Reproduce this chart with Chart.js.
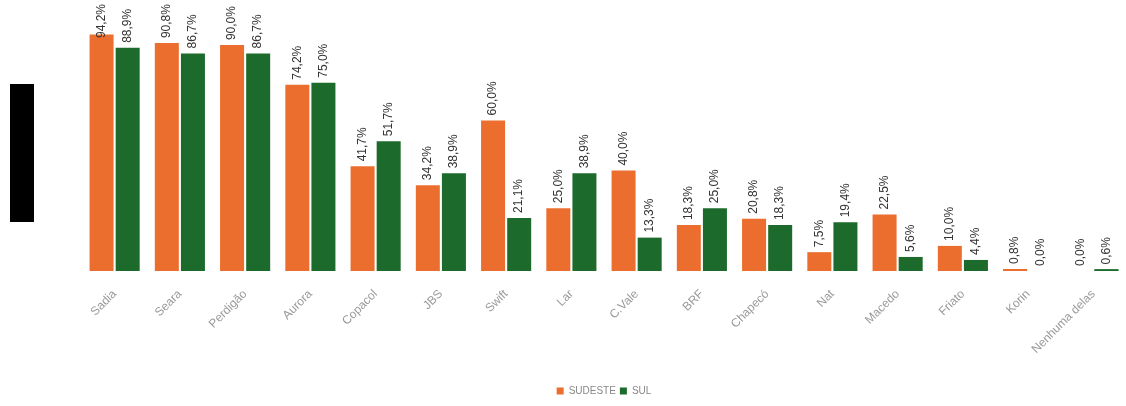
<!DOCTYPE html>
<html>
<head>
<meta charset="utf-8">
<script src="https://cdn.jsdelivr.net/npm/chart.js@4/dist/chart.umd.min.js"></script>
<style>
  html, body { margin: 0; padding: 0; background: #fff; }
  #wrap { position: relative; width: 1126px; height: 406px; }
  #axisMask { position: absolute; left: 10px; top: 84px; width: 24px; height: 138px; background: #000; }
</style>
</head>
<body>
<div id="wrap">
  <canvas id="chart" width="1126" height="406"></canvas>
  <div id="axisMask"></div>
</div>
<script>
const categories = [
  "Sadia", "Seara", "Perdigão", "Aurora", "Copacol", "JBS", "Swift", "Lar",
  "C.Vale", "BRF", "Chapecó", "Nat", "Macedo", "Friato", "Korin", "Nenhuma delas",
];
const sudeste = [94.2, 90.8, 90.0, 74.2, 41.7, 34.2, 60.0, 25.0, 40.0, 18.3, 20.8, 7.5, 22.5, 10.0, 0.8, 0.0];
const sul = [88.9, 86.7, 86.7, 75.0, 51.7, 38.9, 21.1, 38.9, 13.3, 25.0, 18.3, 19.4, 5.6, 4.4, 0.0, 0.6];

const ORANGE = "#EC6E2E";
const GREEN = "#1D6B2C";
const FONT = '"Liberation Sans", "DejaVu Sans", sans-serif';

const fmt = (v) => v.toFixed(1).replace(".", ",") + "%";

// vertical value labels above each bar
const valueLabels = {
  id: "valueLabels",
  afterDatasetsDraw(chart) {
    const { ctx } = chart;
    ctx.save();
    ctx.font = `12px ${FONT}`;
    ctx.fillStyle = "#333";
    ctx.textBaseline = "middle";
    ctx.textAlign = "left";
    chart.data.datasets.forEach((ds, i) => {
      chart.getDatasetMeta(i).data.forEach((bar, j) => {
        const text = fmt(ds.data[j]);
        const w = ctx.measureText(text).width;
        const start = Math.max(bar.y - 5, w + 4);
        ctx.save();
        ctx.translate(bar.x, start);
        ctx.rotate(-Math.PI / 2);
        ctx.fillText(text, 0, 0);
        ctx.restore();
      });
    });
    ctx.restore();
  },
};

// thin line for near-zero bars
const zeroBars = {
  id: "zeroBars",
  afterDatasetsDraw(chart) {
    const { ctx } = chart;
    const base = chart.scales.y.getPixelForValue(0);
    ctx.save();
    chart.data.datasets.forEach((ds, i) => {
      chart.getDatasetMeta(i).data.forEach((bar, j) => {
        if (ds.data[j] > 0 && ds.data[j] < 1.5) {
          ctx.strokeStyle = ds.backgroundColor;
          ctx.lineWidth = 1.5;
          ctx.beginPath();
          ctx.moveTo(bar.x - bar.width / 2, base - 1);
          ctx.lineTo(bar.x + bar.width / 2, base - 1);
          ctx.stroke();
        }
      });
    });
    ctx.restore();
  },
};

new Chart(document.getElementById("chart"), {
  type: "bar",
  data: {
    labels: categories,
    datasets: [
      { label: "SUDESTE", data: sudeste, backgroundColor: ORANGE },
      { label: "SUL", data: sul, backgroundColor: GREEN },
    ],
  },
  options: {
    responsive: false,
    animation: false,
    layout: { padding: { top: 20, left: 82, right: 0, bottom: 0 } },
    datasets: { bar: { categoryPercentage: 0.8, barPercentage: 0.92 } },
    plugins: {
      legend: {
        position: "bottom",
        labels: {
          boxWidth: 7,
          boxHeight: 7,
          padding: 4,
          color: "#888",
          font: { family: FONT, size: 10 },
        },
      },
      tooltip: { enabled: false },
    },
    scales: {
      x: {
        grid: { display: false, drawTicks: false },
        border: { display: false },
        ticks: {
          minRotation: 45,
          maxRotation: 45,
          autoSkip: false,
          padding: 16,
          color: "#999",
          font: { family: FONT, size: 12 },
        },
        afterFit(scale) { scale.height = 111; },
      },
      y: { display: false, min: 0, max: 100 },
    },
  },
  plugins: [valueLabels, zeroBars],
});
</script>
</body>
</html>
